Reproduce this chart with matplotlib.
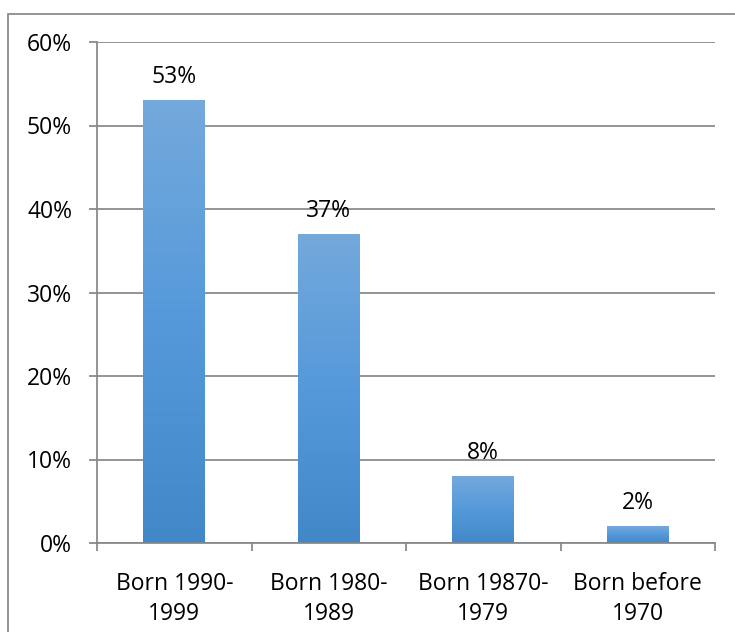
import numpy as np
import matplotlib
matplotlib.use("Agg")
import matplotlib.pyplot as plt
from matplotlib.colors import LinearSegmentedColormap
from matplotlib.patches import Rectangle

# chart values
categories = ["Born 1990-\n1999", "Born 1980-\n1989", "Born 19870-\n1979", "Born before\n1970"]
shares = [53, 37, 8, 2]
yticks = [0, 10, 20, 30, 40, 50, 60]

plt.rcParams['font.family'] = ['Open Sans', 'DejaVu Sans']
grey = '#868686'

fig = plt.figure(figsize=(7.35, 6.32), dpi=100)
ax = fig.add_axes([97/735, 89/632, (715-97)/735, (543-42)/632])

x = np.arange(len(categories))
bars = ax.bar(x, shares, width=0.4, color='none', edgecolor='none', zorder=2)

# vertical gradient inside each bar, lighter at top
grad = LinearSegmentedColormap.from_list('bar', ['#4288c9', '#5599da', '#74a9dc'])
g = np.linspace(0, 1, 256).reshape(-1, 1)
for b in bars:
    x0, y0 = b.get_x(), b.get_y()
    im = ax.imshow(g, cmap=grad, aspect='auto', origin='lower',
                   extent=[x0, x0 + b.get_width(), y0, y0 + b.get_height()], zorder=2)
    im.set_clip_path(b)

for xi, v in zip(x, shares):
    ax.annotate(f"{v}%", (xi, v), xytext=(0, 8), textcoords='offset points',
                ha='center', va='bottom', fontsize=16.5, color='black')

ax.set_xlim(-0.5, len(categories) - 0.5)
ax.set_ylim(0, 60)
ax.set_yticks(yticks)
ax.set_yticklabels([f"{t}%" for t in yticks], fontsize=16.5)
ax.set_xticks(x)
ax.set_xticklabels(categories, fontsize=16.5, linespacing=1.35)
ax.set_xticks(np.arange(len(categories) + 1) - 0.5, minor=True)
ax.tick_params(axis='x', which='major', length=0, pad=21)
ax.tick_params(axis='x', which='minor', length=6, width=1.25, color=grey, direction='out')
ax.tick_params(axis='y', length=6, width=1.25, color=grey, pad=12)

ax.grid(axis='y', color=grey, linewidth=1.25, zorder=0)
ax.set_axisbelow(True)
for s in ['top', 'right']:
    ax.spines[s].set_visible(False)
for s in ['left', 'bottom']:
    ax.spines[s].set_color(grey)
    ax.spines[s].set_linewidth(1.25)

# outer chart border
fig.patches.append(Rectangle((8/735, -0.1), 1.2, 1.1 - 14/632, transform=fig.transFigure,
                             fill=False, edgecolor=grey, linewidth=1.25))

fig.savefig('out.png', dpi=100)
